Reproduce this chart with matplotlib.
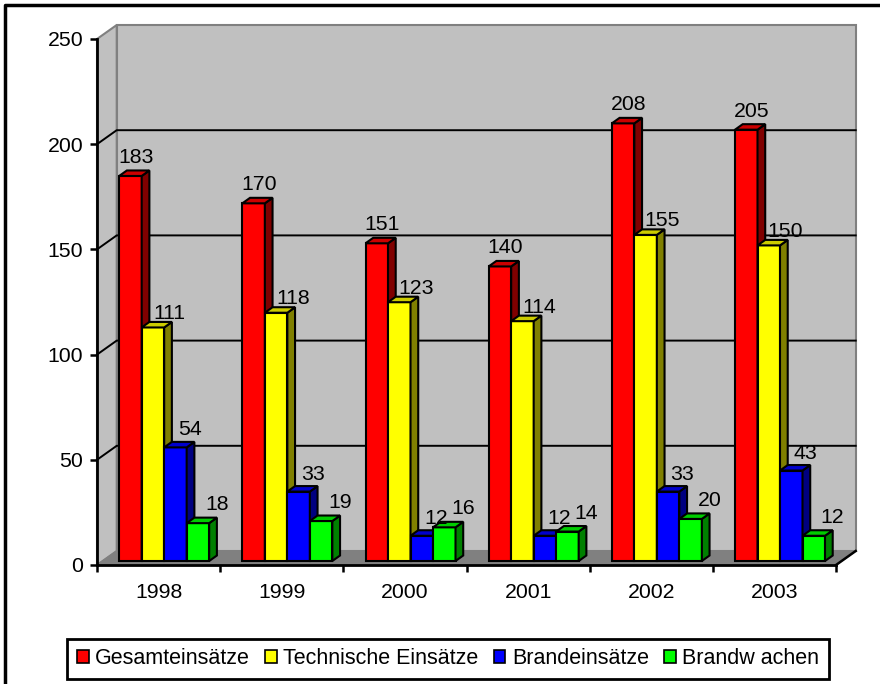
import matplotlib
matplotlib.use("Agg")
import matplotlib.pyplot as plt
from matplotlib.patches import Polygon, Rectangle
from matplotlib.lines import Line2D
import numpy as np

plt.rcParams['font.family'] = ['Liberation Sans', 'DejaVu Sans']

# ---------------- data ----------------
years = ['1998', '1999', '2000', '2001', '2002', '2003']
series_names = ['Gesamteinsätze', 'Technische Einsätze', 'Brandeinsätze', 'Brandw achen']
gesamt = [183, 170, 151, 140, 208, 205]
technisch = [111, 118, 123, 114, 155, 150]
brand = [54, 33, 12, 12, 33, 43]
wachen = [18, 19, 16, 14, 20, 12]
y_ticks = [0, 50, 100, 150, 200, 250]

series = [gesamt, technisch, brand, wachen]

# ---------------- style ----------------
front_colors = ['#FF0000', '#FFFF00', '#0000FF', '#00FF00']
side_colors = ['#800000', '#808000', '#000080', '#008000']
top_colors = ['#CC0000', '#CCCC00', '#0000CC', '#00CC00']
label_offsets_px = [(1.5, 7.5), (13, 3), (10.5, 6.5), (15, 7.5)]

W, H = 880, 684
L, R, B, T = 97, 836, 565, 39   # front plot plane in pixels

fig = plt.figure(figsize=(W / 100, H / 100), dpi=100)
fig.patch.set_facecolor('white')
ax = fig.add_axes([L / W, 1 - B / H, (R - L) / W, (B - T) / H])
n = len(years)
ymax = y_ticks[-1]
ax.set_xlim(0, n)
ax.set_ylim(0, ymax)
ax.patch.set_visible(False)

ux = (R - L) / n
uy = (B - T) / ymax


def px(dx, dy):
    return dx / ux, dy / uy


wdx, wdy = px(19.7, 14)     # wall depth
bdx, bdy = px(5.6, 4)       # bar front offset
ddx, ddy = px(7.7, 5.5)     # bar depth
bw = 22.5 / ux              # bar width

# walls and floor
back = Polygon([(wdx, wdy), (n + wdx, wdy), (n + wdx, ymax + wdy), (wdx, ymax + wdy)],
               closed=True, facecolor='#C0C0C0', edgecolor='#808080', lw=1.5,
               clip_on=False, zorder=0)
side = Polygon([(0, 0), (wdx, wdy), (wdx, ymax + wdy), (0, ymax)],
               closed=True, facecolor='#C0C0C0', edgecolor='#808080', lw=1.5,
               clip_on=False, zorder=0)
floor = Polygon([(0, 0), (n, 0), (n + wdx, wdy), (wdx, wdy)],
                closed=True, facecolor='#808080', edgecolor='#808080', lw=1.0,
                clip_on=False, zorder=1)
for p in (back, side, floor):
    ax.add_patch(p)
ax.plot([n, n + wdx], [0, wdy], color='black', lw=1.8, clip_on=False, zorder=5)

# gridlines
for t in y_ticks[1:-1]:
    ax.plot([0, wdx, n + wdx], [t, t + wdy, t + wdy], color='black', lw=1.4,
            clip_on=False, zorder=2)

# bars
cats = np.arange(n)
for j, vals in enumerate(series):
    centers = cats + 0.5 + (j - 1.5) * bw + bdx
    ax.bar(centers, vals, width=bw, bottom=bdy, color=front_colors[j],
           edgecolor='black', linewidth=1.5, zorder=3, clip_on=False)
    for c, v in zip(centers, vals):
        xl, xr = c - bw / 2, c + bw / 2
        top = v + bdy
        ax.add_patch(Polygon([(xr, bdy), (xr + ddx, bdy + ddy), (xr + ddx, top + ddy), (xr, top)],
                             closed=True, facecolor=side_colors[j], edgecolor='black',
                             lw=1.5, zorder=3, clip_on=False))
        ax.add_patch(Polygon([(xl, top), (xr, top), (xr + ddx, top + ddy), (xl + ddx, top + ddy)],
                             closed=True, facecolor=top_colors[j], edgecolor='black',
                             lw=1.5, zorder=3, clip_on=False))
        ox, oy = label_offsets_px[j]
        ax.annotate(str(v), xy=(c + ddx / 2, top + ddy), xytext=(ox * 0.72, oy * 0.72),
                    textcoords='offset points', ha='center', va='baseline',
                    fontsize=15.3, color='black', zorder=6, annotation_clip=False)

# axes
for s in ('top', 'right'):
    ax.spines[s].set_visible(False)
for s in ('left', 'bottom'):
    ax.spines[s].set_color('black')
    ax.spines[s].set_linewidth(2)
    ax.spines[s].set_zorder(6)
ax.set_yticks(y_ticks)
ax.set_yticklabels([str(t) for t in y_ticks])
ax.tick_params(axis='y', direction='out', length=5, width=1.8, pad=5, labelsize=15.3, colors='black')
ax.set_xticks(np.arange(n + 1))
ax.set_xticklabels([''] * (n + 1))
ax.tick_params(axis='x', which='major', direction='out', length=5, width=1.8)
ax.set_xticks(cats + 0.5, minor=True)
ax.set_xticklabels(years, minor=True)
ax.tick_params(axis='x', which='minor', length=0, pad=13, labelsize=15.3)

# legend
handles = [Rectangle((0, 0), 1, 1, facecolor=c, edgecolor='black', lw=1.2) for c in front_colors]
leg = fig.legend(handles, series_names, loc='center', bbox_to_anchor=(448 / W, 1 - 659 / H),
                 ncol=4, fontsize=15.5, frameon=True, fancybox=False, framealpha=1,
                 edgecolor='black', handlelength=0.55, handleheight=0.55,
                 handletextpad=0.3, columnspacing=0.7, borderpad=0.45, borderaxespad=0)
leg.get_frame().set_linewidth(2)

# outer frame (top and left edges visible)
fig.add_artist(Line2D([5 / W, 5 / W, 1.05], [-0.05, 1 - 5 / H, 1 - 5 / H],
                      transform=fig.transFigure, color='black', lw=2.5))

fig.savefig('out.png', dpi=100)
